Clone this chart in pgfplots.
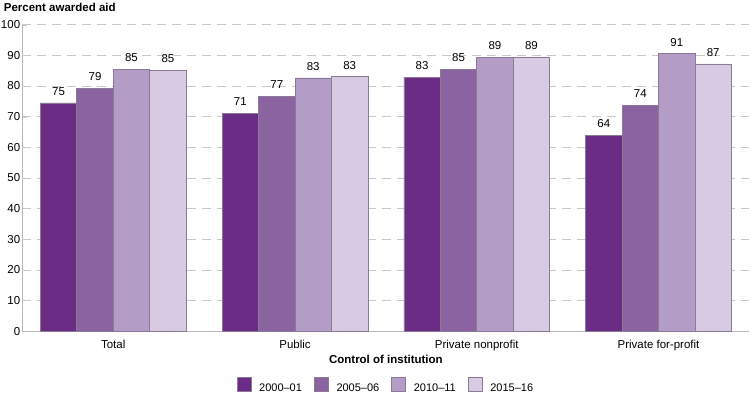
\documentclass[border=0pt]{standalone}
\usepackage{pgfplots}
\pgfplotsset{compat=1.18}
\usepackage{fontspec}
\setmainfont{Liberation Sans}
\definecolor{cA}{HTML}{6B2C85}
\definecolor{cB}{HTML}{8B63A0}
\definecolor{cC}{HTML}{B39CC6}
\definecolor{cD}{HTML}{D6CBE2}
\definecolor{edge}{HTML}{8A7A96}
\definecolor{axgray}{HTML}{B8B8B8}
\definecolor{gridgray}{HTML}{C8C8C8}
\begin{document}
\begin{tikzpicture}
\begin{axis}[
  scale only axis, width=728pt, height=307pt,
  ymin=0, ymax=100, ytick={0,10,...,100},
  xmin=-0.5, xmax=3.5, xtick={0,1,2,3},
  xticklabels={Total,Public,Private nonprofit,Private for-profit},
  ybar, bar width=36.5pt,
  axis x line*=bottom, axis y line*=left,
  axis line style={axgray, line width=1.2pt},
  x axis line style={-}, y axis line style={-},
  major x tick style={draw=none},
  major y tick style={gridgray},
  ymajorgrids, grid style={gridgray, dash pattern=on 9pt off 6pt, line width=0.8pt},
  yticklabel style={inner sep=1pt, xshift=-1pt},
  xticklabel style={yshift=-1pt},
  tick label style={font=\fontsize{11.5}{13}\selectfont},
  /pgf/number format/assume math mode=true,
  xlabel={\textbf{Control of institution}},
  xlabel style={font=\fontsize{11.5}{13}\selectfont, yshift=2pt},
  nodes near coords, point meta=explicit,
  nodes near coords style={font=\fontsize{11.5}{13}\selectfont, yshift=4pt},
  every axis plot/.append style={draw=edge, line width=0.6pt},
  legend style={at={(0.5,-0.15)}, anchor=north, draw=none, legend columns=4, inner sep=0pt,
    font=\fontsize{11}{13}\selectfont,
    /tikz/every odd column/.append style={column sep=6pt},
    /tikz/every even column/.append style={column sep=10pt}},
  legend image code/.code={\draw[#1] (0pt,-3pt) rectangle (14pt,11pt);},
  clip=false,
]
\addplot[fill=cA, bar shift=-54.75pt] coordinates {(0,74.5) [75] (1,71.1) [71] (2,82.9) [83] (3,63.8) [64]};
\addplot[fill=cB, bar shift=-18.25pt] coordinates {(0,79.1) [79] (1,76.6) [77] (2,85.4) [85] (3,73.7) [74]};
\addplot[fill=cC, bar shift=18.25pt] coordinates {(0,85.3) [85] (1,82.6) [83] (2,89.3) [89] (3,90.5) [91]};
\addplot[fill=cD, bar shift=54.75pt] coordinates {(0,85.0) [85] (1,83.0) [83] (2,89.3) [89] (3,87.2) [87]};
\legend{2000--01,2005--06,2010--11,2015--16}
\end{axis}
\node[anchor=base west, font=\bfseries\fontsize{11.5}{13}\selectfont] at ([xshift=-22pt,yshift=13pt]current axis.north west) {Percent awarded aid};
\end{tikzpicture}
\end{document}
